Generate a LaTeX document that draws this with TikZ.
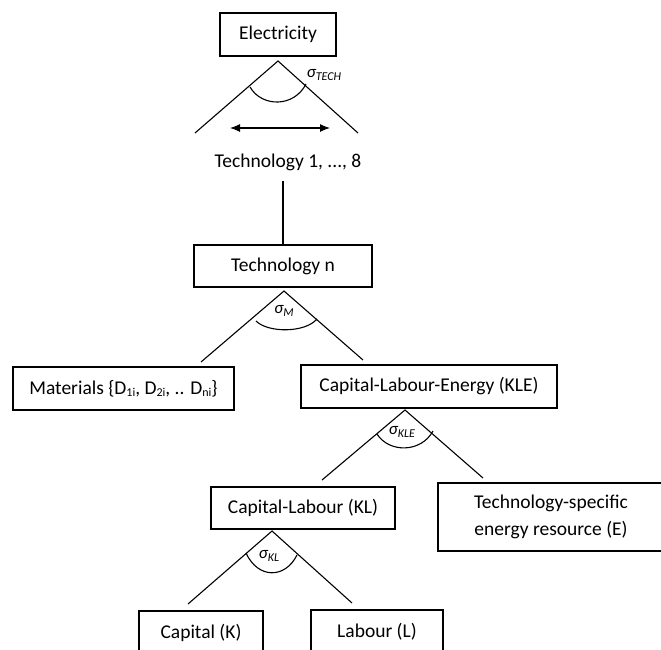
\documentclass[tikz,border=0pt]{standalone}
\usepackage{fontspec}
\setmainfont{Carlito}
\usetikzlibrary{arrows.meta}
\newcommand{\elast}[1]{{\itshape σ\raisebox{-2.5pt}{\fontsize{12}{12}\selectfont #1}}}
\newcommand{\lowsub}[1]{\raisebox{-2pt}{\fontsize{12}{12}\selectfont #1}}
\begin{document}
\begin{tikzpicture}[x=1pt,y=-1pt,
  box/.style={draw,line width=1.2pt,inner sep=0pt,align=center,font=\fontsize{19.5}{27}\selectfont},
  leg/.style={line width=1.1pt},
  sig/.style={inner sep=0pt,font=\fontsize{17}{17}\selectfont}]
\useasboundingbox (0,0) rectangle (661,649);
\clip (0,0) rectangle (661,649);

\node[box,minimum width=116,minimum height=43] (elec) at (278,34.5) {Electricity};
\node[inner sep=0pt,font=\fontsize{19.5}{24}\selectfont] (tech18) at (288,162) {Technology 1, ..., 8};
\node[box,minimum width=178,minimum height=42] (techn) at (283,266) {Technology n};
\node[box,minimum width=221,minimum height=43] (mat) at (123.5,388.5) {Materials \{D\lowsub{1i}, D\lowsub{2i}, .. D\lowsub{ni}\}};
\node[box,minimum width=256,minimum height=43] (kle) at (429,386.5) {Capital-Labour-Energy (KLE)};
\node[box,minimum width=184,minimum height=42] (kl) at (303,508) {Capital-Labour (KL)};
\node[box,minimum width=226,minimum height=68] (ener) at (551,517) {Technology-specific\\energy resource (E)};
\node[box,minimum width=124,minimum height=44] (cap) at (201,633) {Capital (K)};
\node[box,minimum width=132,minimum height=44] (lab) at (377,632) {Labour (L)};

% electricity nest
\coordinate (elecTop) at (278,61);
\coordinate (elecL) at (195,133);
\coordinate (elecR) at (358,133);
\draw[leg] (elecL) -- (elecTop) -- (elecR);
\draw[leg] (250,87) .. controls (262,107.5) and (294,107.5) .. (306,84);
\node[sig] (sigTech) at (324,75) {\elast{TECH}};
\coordinate (arrL) at (230,128);
\coordinate (arrR) at (330,128);
\draw[{Latex[length=10pt,width=8pt]}-{Latex[length=10pt,width=8pt]},line width=1.1pt] (arrL) -- (arrR);
\draw[leg,shorten >=10pt] (techn.north) -- (techn.north |- tech18.south);

% technology nest
\coordinate (technTop) at (284,291);
\coordinate (technL) at (201,362);
\coordinate (technR) at (363,360);
\draw[leg] (technL) -- (technTop) -- (technR);
\draw[leg] (256,321) .. controls (268,333) and (305,333) .. (317,319);
\node[sig] (sigM) at (284,311) {\elast{M}};

% KLE nest
\coordinate (kleTop) at (405,410);
\coordinate (kleL) at (322,480);
\coordinate (kleR) at (483,478);
\draw[leg] (kleL) -- (kleTop) -- (kleR);
\draw[leg] (377,434) .. controls (389,453) and (421,453) .. (433,431);
\node[sig] (sigKLE) at (402,432) {\elast{KLE}};

% KL nest
\coordinate (klTop) at (272,531);
\coordinate (klL) at (188,604);
\coordinate (klR) at (352,603);
\draw[leg] (klL) -- (klTop) -- (klR);
\draw[leg] (246,553) .. controls (258,579) and (285,579) .. (297,555);
\node[sig] (sigKL) at (269,556) {\elast{KL}};
\end{tikzpicture}
\end{document}
